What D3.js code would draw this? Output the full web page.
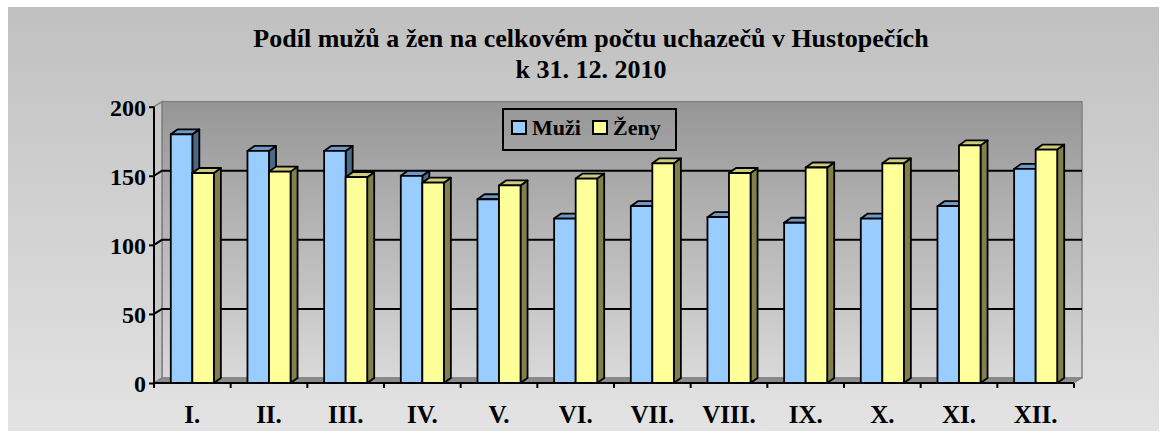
<!DOCTYPE html>
<html>
<head>
<meta charset="utf-8">
<script src="https://cdn.jsdelivr.net/npm/d3@7"></script>
<style>
  html, body { margin: 0; padding: 0; background: #fff; }
  svg text { font-family: "Liberation Serif", "Times New Roman", serif; font-weight: bold; fill: #000; }
</style>
</head>
<body>
<div id="app"></div>
<script>
// data
const months = ["I.", "II.", "III.", "IV.", "V.", "VI.", "VII.", "VIII.", "IX.", "X.", "XI.", "XII."];
const muzi = [180, 168, 168, 150, 133, 119, 128, 120, 116, 119, 128, 155];
const zeny = [152, 153, 149, 145, 143, 148, 159, 152, 156, 159, 172, 169];
const seriesNames = ["Muži", "Ženy"];
const yTicks = [0, 50, 100, 150, 200];
const titleLines = ["Podíl mužů a žen na celkovém počtu uchazečů v Hustopečích", "k 31. 12. 2010"];

function drawChart() {
  const dimensions = {
    width: 1163,
    height: 438,
    margin: { top: 106.7, right: 89, bottom: 55, left: 154 }
  };
  dimensions.boundedWidth = dimensions.width - dimensions.margin.left - dimensions.margin.right;
  dimensions.boundedHeight = 383 - dimensions.margin.top;

  // 3d offsets (walls and bars)
  const wallDepth = { dx: 8, dy: -5 };
  const barDepth = { dx: 7, dy: -5 };

  const colors = {
    "Muži": { front: "#99ccff", top: "#6e99c6", side: "#4b6986" },
    "Ženy": { front: "#ffff99", top: "#cccc7a", side: "#80804c" }
  };

  const wrapper = d3.select("#app")
    .append("svg")
    .attr("width", dimensions.width)
    .attr("height", dimensions.height);

  const defs = wrapper.append("defs");
  const bgGrad = defs.append("linearGradient").attr("id", "bg")
    .attr("x1", 0).attr("y1", 0).attr("x2", 0).attr("y2", 1);
  bgGrad.append("stop").attr("offset", "0%").attr("stop-color", "#c0c0c0");
  bgGrad.append("stop").attr("offset", "100%").attr("stop-color", "#e3e3e3");

  const wallGrad = defs.append("linearGradient").attr("id", "wall")
    .attr("x1", 0).attr("y1", 0).attr("x2", 0).attr("y2", 1);
  wallGrad.append("stop").attr("offset", "0%").attr("stop-color", "#969696");
  wallGrad.append("stop").attr("offset", "100%").attr("stop-color", "#d9d9d9");

  // chart area background
  wrapper.append("rect")
    .attr("x", 8).attr("y", 7)
    .attr("width", 1151).attr("height", 424)
    .attr("fill", "url(#bg)");

  // title
  wrapper.append("g")
    .selectAll("text")
    .data(titleLines)
    .join("text")
    .attr("x", 591)
    .attr("y", (d, i) => 47 + i * 31)
    .attr("text-anchor", "middle")
    .style("font-size", "26px")
    .text((d) => d);

  const bounds = wrapper.append("g")
    .attr("transform", `translate(${dimensions.margin.left}, ${dimensions.margin.top})`);

  // scales
  const xScale = d3.scaleBand()
    .domain(months)
    .range([0, dimensions.boundedWidth])
    .padding(0);

  const xSeries = d3.scaleBand()
    .domain(seriesNames)
    .range([0, xScale.bandwidth()])
    .paddingInner(0)
    .paddingOuter(0.78);

  const yScale = d3.scaleLinear()
    .domain([0, 200])
    .range([dimensions.boundedHeight, 0]);

  const y0 = yScale(0);
  const W = dimensions.boundedWidth;

  // walls
  const walls = bounds.append("g");
  // back wall
  walls.append("rect")
    .attr("x", wallDepth.dx)
    .attr("y", yScale(200) + wallDepth.dy)
    .attr("width", W)
    .attr("height", y0 - yScale(200))
    .attr("fill", "url(#wall)")
    .attr("stroke", "#808080")
    .attr("stroke-width", 1.5);
  // side wall
  walls.append("polygon")
    .attr("points", [
      [0, y0], [0, yScale(200)],
      [wallDepth.dx, yScale(200) + wallDepth.dy], [wallDepth.dx, y0 + wallDepth.dy]
    ].join(" "))
    .attr("fill", "#c8c8c8")
    .attr("stroke", "#808080")
    .attr("stroke-width", 1.5);
  // floor
  walls.append("polygon")
    .attr("points", [
      [0, y0], [W, y0],
      [W + wallDepth.dx, y0 + wallDepth.dy], [wallDepth.dx, y0 + wallDepth.dy]
    ].join(" "))
    .attr("fill", "#8c8c8c")
    .attr("stroke", "#808080")
    .attr("stroke-width", 1);

  // grid lines on the back wall
  const gridVals = yTicks.filter((d) => d > 0 && d < 200);
  bounds.append("g")
    .selectAll("polyline")
    .data(gridVals)
    .join("polyline")
    .attr("points", (d) => [
      [0, yScale(d)],
      [wallDepth.dx, yScale(d) + wallDepth.dy],
      [W + wallDepth.dx, yScale(d) + wallDepth.dy]
    ].join(" "))
    .attr("fill", "none")
    .attr("stroke", "#000")
    .attr("stroke-width", 2);

  // bars
  const rows = [];
  months.forEach((m, i) => {
    rows.push({ month: m, key: "Muži", value: muzi[i] });
    rows.push({ month: m, key: "Ženy", value: zeny[i] });
  });

  const bar = bounds.append("g")
    .selectAll("g")
    .data(rows)
    .join("g")
    .attr("stroke", "#000")
    .attr("stroke-width", 1.8)
    .attr("stroke-linejoin", "round");

  const bx = (d) => xScale(d.month) + xSeries(d.key);
  const bw = xSeries.bandwidth();

  bar.append("polygon") // side
    .attr("points", (d) => {
      const x = bx(d) + bw, y = yScale(d.value);
      return [[x, y], [x + barDepth.dx, y + barDepth.dy], [x + barDepth.dx, y0 + barDepth.dy], [x, y0]].join(" ");
    })
    .attr("fill", (d) => colors[d.key].side);

  bar.append("polygon") // top
    .attr("points", (d) => {
      const x = bx(d), y = yScale(d.value);
      return [[x, y], [x + barDepth.dx, y + barDepth.dy], [x + bw + barDepth.dx, y + barDepth.dy], [x + bw, y]].join(" ");
    })
    .attr("fill", (d) => colors[d.key].top);

  bar.append("rect") // front
    .attr("x", bx)
    .attr("y", (d) => yScale(d.value))
    .attr("width", bw)
    .attr("height", (d) => y0 - yScale(d.value))
    .attr("fill", (d) => colors[d.key].front);

  // axes
  const yAxisGenerator = d3.axisLeft(yScale)
    .tickValues(yTicks)
    .tickSize(5)
    .tickPadding(3);

  const yAxis = bounds.append("g")
    .call(yAxisGenerator)
    .call((g) => g.select(".domain").attr("stroke-width", 2).attr("d", `M0,${y0}V${yScale(200)}`));
  yAxis.selectAll(".tick line").attr("stroke-width", 2);
  yAxis.selectAll(".tick text")
    .attr("font-family", null)
    .style("font-size", "24px")
    .attr("dy", "0.36em");

  // category labels, ticks on category boundaries
  const xAxisGenerator = d3.axisBottom(xScale).tickSize(0).tickPadding(22);
  const xAxis = bounds.append("g")
    .attr("transform", `translate(0, ${y0})`)
    .call(xAxisGenerator)
    .call((g) => g.select(".domain").attr("stroke-width", 2).attr("d", `M0,0H${W}`));
  xAxis.selectAll(".tick text")
    .attr("font-family", null)
    .style("font-size", "25px");

  bounds.append("g")
    .selectAll("line")
    .data(months.map((m) => xScale(m)).concat([W]))
    .join("line")
    .attr("x1", (d) => d).attr("x2", (d) => d)
    .attr("y1", y0).attr("y2", y0 + 5)
    .attr("stroke", "#000")
    .attr("stroke-width", 2);

  // legend
  const legend = wrapper.append("g").attr("transform", "translate(503, 109)");
  legend.append("rect")
    .attr("width", 173).attr("height", 41)
    .attr("fill", "none")
    .attr("stroke", "#000")
    .attr("stroke-width", 2);
  const item = legend.selectAll("g")
    .data(seriesNames)
    .join("g")
    .attr("transform", (d, i) => `translate(${9 + i * 81}, 0)`);
  item.append("rect")
    .attr("y", 12).attr("width", 14).attr("height", 13)
    .attr("fill", (d) => colors[d].front)
    .attr("stroke", "#000").attr("stroke-width", 2);
  item.append("text")
    .attr("x", 20).attr("y", 26)
    .style("font-size", "22px")
    .text((d) => d);
}

drawChart();
</script>
</body>
</html>
